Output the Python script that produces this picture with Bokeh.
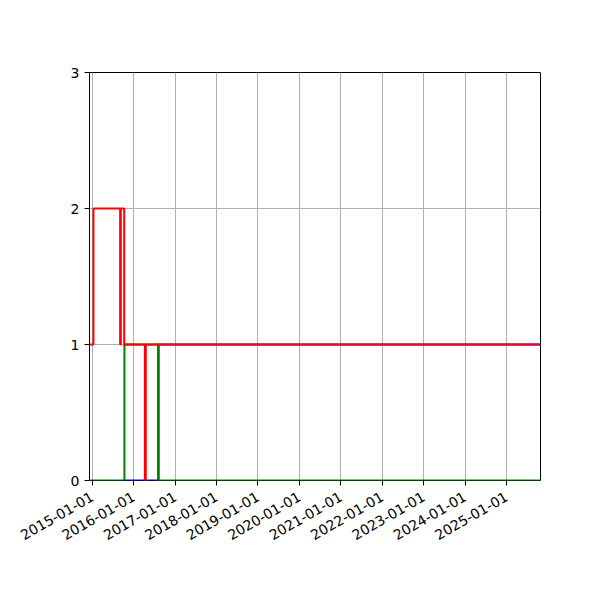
import math
from datetime import datetime

from bokeh.plotting import figure
from bokeh.models import Range1d, FixedTicker, DatetimeTickFormatter
from bokeh.embed import file_html
from bokeh.resources import INLINE

# step series (steps-post)
red_dates = [datetime(2014, 12, 8), datetime(2015, 1, 12), datetime(2015, 9, 4),
             datetime(2015, 9, 10), datetime(2015, 10, 10), datetime(2016, 4, 9),
             datetime(2016, 4, 17), datetime(2025, 10, 27)]
red_values = [1, 2, 1, 2, 1, 0, 1, 1]

green_dates = [datetime(2014, 12, 8), datetime(2015, 10, 12), datetime(2016, 8, 9),
               datetime(2025, 10, 27)]
green_values = [0, 1, 0, 0]

blue_dates = [datetime(2015, 10, 12), datetime(2016, 8, 5), datetime(2025, 10, 27)]
blue_values = [0, 1, 1]

year_ticks = [datetime(y, 1, 1) for y in range(2015, 2026)]
y_ticks = [0, 1, 2, 3]

p = figure(x_axis_type="datetime",
           frame_width=451, frame_height=408,
           min_border_left=89, min_border_top=72,
           min_border_right=44, min_border_bottom=104,
           x_range=Range1d(datetime(2014, 12, 8), datetime(2025, 10, 27)),
           y_range=Range1d(0, 3),
           output_backend="svg", toolbar_location=None)

p.step(blue_dates, blue_values, mode="after", color="#0000ff", line_width=2)
p.step(green_dates, green_values, mode="after", color="#008000", line_width=2)
p.step(red_dates, red_values, mode="after", color="#ff0000", line_width=2)

p.xaxis.ticker = FixedTicker(ticks=[d.timestamp() * 1000 for d in year_ticks])
fmt = "%Y-%m-%d"
p.xaxis.formatter = DatetimeTickFormatter(years=fmt, months=fmt, days=fmt,
                                          hours=fmt, minutes=fmt, seconds=fmt,
                                          milliseconds=fmt, microseconds=fmt)
p.xaxis.major_label_orientation = math.pi / 6
p.xaxis.major_label_standoff = 10
p.yaxis.ticker = FixedTicker(ticks=y_ticks)

for ax in [p.xaxis, p.yaxis]:
    ax.major_label_text_font = "DejaVu Sans"
    ax.major_label_text_font_size = "14px"
    ax.major_label_text_color = "black"
    ax.axis_line_color = None
    ax.major_tick_out = 5
    ax.major_tick_in = 0
    ax.major_tick_line_color = "black"
    ax.minor_tick_line_color = None

p.grid.grid_line_color = "#b0b0b0"
p.grid.grid_line_width = 1
p.outline_line_color = "black"
p.outline_line_width = 1
p.outline_line_alpha = 1

open("out.html", "w").write(file_html(p, INLINE))
